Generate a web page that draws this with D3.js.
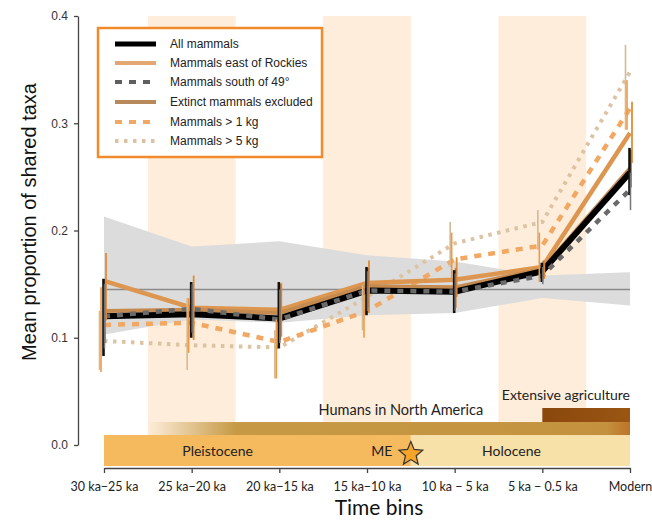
<!DOCTYPE html>
<html><head><meta charset="utf-8">
<script src="https://cdn.jsdelivr.net/npm/d3@7/dist/d3.min.js"></script>
<style>body{margin:0;background:#fff}svg{display:block}</style>
</head><body>
<svg id="c" width="652" height="523"></svg>
<script>
const categories = ["30 ka\u221225 ka","25 ka\u221220 ka","20 ka\u221215 ka","15 ka\u221210 ka","10 ka \u2212 5 ka","5 ka \u2212 0.5 ka","Modern"];
const yTicks = [0, 0.1, 0.2, 0.3, 0.4];

const allMammals  = [0.120, 0.122, 0.118, 0.144, 0.143, 0.162, 0.254];
const eastRockies = [0.153, 0.128, 0.126, 0.151, 0.154, 0.166, 0.291];
const south49     = [0.120, 0.127, 0.117, 0.144, 0.143, 0.158, 0.238];
const extinctExcl = [0.125, 0.126, 0.123, 0.148, 0.147, 0.164, 0.258];
const over1kg     = [0.112, 0.114, 0.096, 0.125, 0.173, 0.186, 0.314];
const over5kg     = [0.097, 0.093, 0.091, 0.138, 0.188, 0.208, 0.348];

const allLo = [0.083, 0.100, 0.090, 0.121, 0.123, 0.152, 0.233];
const allHi = [0.155, 0.152, 0.152, 0.166, 0.163, 0.170, 0.277];
const eastLo = [0.116, 0.098, 0.101, 0.123, 0.138, 0.155, 0.263];
const eastHi = [0.179, 0.158, 0.151, 0.172, 0.175, 0.172, 0.320];
const southLo = [0.090, 0.105, 0.095, 0.125, 0.125, 0.150, 0.219];
const southHi = [0.150, 0.150, 0.145, 0.162, 0.160, 0.166, 0.254];
const extLo = [0.095, 0.105, 0.098, 0.128, 0.128, 0.155, 0.240];
const extHi = [0.150, 0.150, 0.150, 0.165, 0.165, 0.172, 0.275];
const kg1Lo = [0.068, 0.086, 0.062, 0.100, 0.154, 0.152, 0.294];
const kg1Hi = [0.147, 0.137, 0.117, 0.147, 0.198, 0.198, 0.340];
const kg5Lo = [0.070, 0.070, 0.062, 0.107, 0.166, 0.182, 0.294];
const kg5Hi = [0.125, 0.137, 0.107, 0.149, 0.208, 0.219, 0.373];

const nullUpper = [0.213, 0.185, 0.190, 0.177, 0.171, 0.158, 0.161];
const nullLower = [0.103, 0.117, 0.114, 0.121, 0.123, 0.137, 0.130];
const nullMean  = [0.145, 0.145, 0.145, 0.145, 0.145, 0.145, 0.145];

const legendLabels = ["All mammals","Mammals east of Rockies","Mammals south of 49\u00b0","Extinct mammals excluded","Mammals > 1 kg","Mammals > 5 kg"];

const svg = d3.select("#c");
const x = d3.scalePoint().domain(categories).range([104, 630]);
const y = d3.scaleLinear().domain([0, 0.4]).range([445, 16]);
const step = x.step();
const mid = (i, j) => (x(categories[i]) + x(categories[j])) / 2;

// background bands
[1, 3, 5].forEach(i => {
  svg.append("rect").attr("x", x(categories[i]) - step/2).attr("width", step)
    .attr("y", y(0.4)).attr("height", y(0) - y(0.4)).attr("fill", "#fdedda");
});

// null band
const area = d3.area().x((d,i) => x(categories[i])).y0((d,i) => y(nullLower[i])).y1(d => y(d));
svg.append("path").datum(nullUpper).attr("d", area).attr("fill", "#dddcdd");
svg.append("path").datum(nullMean).attr("d", d3.line().x((d,i)=>x(categories[i])).y(d=>y(d)))
  .attr("fill","none").attr("stroke","#8a8a8a").attr("stroke-width",1.5);

const series = [
  {v: over5kg, lo: kg5Lo, hi: kg5Hi, color: "#dcc3a3", w: 4, dash: "3.5,5.5", off: -4.5, ew: 1.6, ec: "#d6b894"},
  {v: over1kg, lo: kg1Lo, hi: kg1Hi, color: "#f2a862", w: 4.5, dash: "7,7", off: -3, ew: 1.6, ec: "#ee9a45"},
  {v: eastRockies, lo: eastLo, hi: eastHi, color: "#dc9650", w: 4.5, dash: null, off: 2, ew: 1.8, ec: "#e08c34"},
  {v: extinctExcl, lo: extLo, hi: extHi, color: "#c48a50", w: 4, dash: null, off: 1, ew: 1.8, ec: "#c07a3a"},
  {v: allMammals, lo: allLo, hi: allHi, color: "#000", w: 6, dash: null, off: -0.5, ew: 2.6, ec: "#111"},
  {v: south49, lo: southLo, hi: southHi, color: "#6a6a6a", w: 4.5, dash: "6,7", off: 0.5, ew: 1.5, ec: "#777"}
];
const line = d3.line().x((d,i)=>x(categories[i])).y(d=>y(d));
series.forEach(s => {
  svg.append("path").datum(s.v).attr("d", line).attr("fill","none")
    .attr("stroke", s.color).attr("stroke-width", s.w)
    .attr("stroke-dasharray", s.dash).attr("stroke-linejoin","miter");
});
series.forEach(s => {
  svg.append("g").selectAll("line").data(s.v).join("line")
    .attr("x1", (d,i)=>x(categories[i]) + s.off).attr("x2", (d,i)=>x(categories[i]) + s.off)
    .attr("y1", (d,i)=>y(s.lo[i])).attr("y2", (d,i)=>y(s.hi[i]))
    .attr("stroke", s.ec).attr("stroke-width", s.ew);
});

// bottom timeline bars
const defs = svg.append("defs");
const g1 = defs.append("linearGradient").attr("id","hum").attr("gradientUnits","userSpaceOnUse")
  .attr("x1", mid(0,1)).attr("x2", x(categories[6])).attr("y1",0).attr("y2",0);
const span = x(categories[6]) - mid(0,1);
g1.append("stop").attr("offset", 0).attr("stop-color","#c69a45").attr("stop-opacity",0);
g1.append("stop").attr("offset", (mid(1,2)-mid(0,1))/span).attr("stop-color","#c69a45").attr("stop-opacity",1);
g1.append("stop").attr("offset", (mid(5,6)+20-mid(0,1))/span).attr("stop-color","#c4923e");
g1.append("stop").attr("offset", 1).attr("stop-color","#bd7328");
const g2 = defs.append("linearGradient").attr("id","agr").attr("x1","0").attr("x2","1");
g2.append("stop").attr("offset",0).attr("stop-color","#8a470c");
g2.append("stop").attr("offset",1).attr("stop-color","#9a5612");

const xL = x(categories[0]), xR = x(categories[6]), xME = mid(3,4);
svg.append("rect").attr("x", xL).attr("width", xME - xL).attr("y", y(0.0093)).attr("height", y(-0.0196)-y(0.0093)).attr("fill","#f5b95e");
svg.append("rect").attr("x", xME).attr("width", xR - xME).attr("y", y(0.0093)).attr("height", y(-0.0196)-y(0.0093)).attr("fill","#f8e0a9");
svg.append("rect").attr("x", mid(0,1)).attr("width", xR - mid(0,1)).attr("y", y(0.0214)).attr("height", y(0.0093)-y(0.0214)).attr("fill","url(#hum)");
svg.append("rect").attr("x", x(categories[5])).attr("width", xR - x(categories[5])).attr("y", y(0.0345)).attr("height", y(0.0214)-y(0.0345)).attr("fill","url(#agr)");

const lab = (t, xx, yy, anchor, size) => svg.append("text").attr("x", xx).attr("y", yy)
  .attr("text-anchor", anchor).attr("font-family","Lato, 'Open Sans', sans-serif").attr("font-size", size)
  .attr("fill","#222").text(t);
lab("Pleistocene", (xL + mid(2,3)) / 2 + 4, 456, "middle", 14);
lab("ME", xME - 29, 456, "middle", 14);
lab("Holocene", mid(4,5) + 13, 456, "middle", 14);
lab("Humans in North America", xME - 10, 415, "middle", 14.5);
lab("Extensive agriculture", xR, 400, "end", 14);

// star
const pts = [];
for (let k = 0; k < 10; k++) {
  const r = k % 2 === 0 ? 12.5 : 5.6;
  const a = -Math.PI/2 + k * Math.PI/5;
  pts.push([xME + r*Math.cos(a), 454 + r*Math.sin(a)]);
}
svg.append("path").attr("d", "M" + pts.map(p=>p.join(",")).join("L") + "Z")
  .attr("fill","#f5a42a").attr("stroke","#333").attr("stroke-width",1.2).attr("stroke-linejoin","miter");

// axes
const yAxis = svg.append("g").attr("transform","translate(78,0)")
  .call(d3.axisLeft(y).tickValues(yTicks).tickFormat(d3.format(".1f")).tickSize(4).tickSizeOuter(0).tickPadding(6));
yAxis.selectAll("text").attr("font-family","'Liberation Sans', Arial, sans-serif").attr("font-size",12).attr("fill","#333");
yAxis.selectAll("path,line").attr("stroke","#444").attr("stroke-width",1.3);

const xAxis = svg.append("g").attr("transform","translate(0,468)")
  .call(d3.axisBottom(x).tickSize(5).tickSizeOuter(0).tickPadding(9));
xAxis.selectAll("text").attr("font-family","Lato, 'Open Sans', sans-serif").attr("font-size",12.5).attr("fill","#222");
xAxis.selectAll("path,line").attr("stroke","#444").attr("stroke-width",1.3);

svg.append("text").attr("transform","translate(36,222) rotate(-90)").attr("text-anchor","middle")
  .attr("font-family","'Liberation Sans', Arial, sans-serif").attr("font-size",20).attr("fill","#111")
  .text("Mean proportion of shared taxa");
svg.append("text").attr("x", 379).attr("y", 515).attr("text-anchor","middle")
  .attr("font-family","Lato, 'Open Sans', sans-serif").attr("font-size",21).attr("fill","#111").text("Time bins");

// legend
const lg = svg.append("g");
lg.append("rect").attr("x", 98).attr("y", 28).attr("width", 224).attr("height", 129)
  .attr("fill","#fff").attr("stroke","#f08a2a").attr("stroke-width",2.5);
const legStyle = [
  {color:"#000", w:5, dash:null},
  {color:"#e3a774", w:4, dash:null},
  {color:"#5f5f5f", w:4, dash:"7,7"},
  {color:"#b8895a", w:4, dash:null},
  {color:"#f2a865", w:4, dash:"7,7"},
  {color:"#dcc2a2", w:4, dash:"3.5,5.5"}
];
const rowY = [44, 63, 82, 102, 122, 141];
legendLabels.forEach((t, i) => {
  lg.append("line").attr("x1",115).attr("x2",156).attr("y1",rowY[i]).attr("y2",rowY[i])
    .attr("stroke",legStyle[i].color).attr("stroke-width",legStyle[i].w).attr("stroke-dasharray",legStyle[i].dash);
  lg.append("text").attr("x",170).attr("y",rowY[i]+4).attr("font-family","'Liberation Sans', Arial, sans-serif")
    .attr("font-size",12).attr("fill","#222").text(t);
});
</script>
</body></html>
